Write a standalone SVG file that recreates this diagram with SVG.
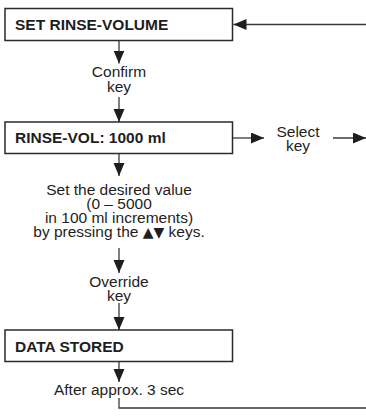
<svg xmlns="http://www.w3.org/2000/svg" width="366" height="417" viewBox="0 0 366 417">
<style>
.box{fill:#fff;stroke:#2a2a2a;stroke-width:1.5}
.bt{font-family:"Liberation Sans",Arial,sans-serif;font-weight:bold;font-size:15.5px;fill:#1e1e1e}
.t{font-family:"Liberation Sans",Arial,sans-serif;font-size:15.5px;fill:#1e1e1e;text-anchor:middle}
.tri{font-family:"DejaVu Sans",sans-serif;font-size:14px}
.c{fill:none;stroke:#3a3a3a;stroke-width:1.3}
</style>
<defs>
<marker id="ah" markerUnits="userSpaceOnUse" markerWidth="14" markerHeight="12" refX="13" refY="5.5" orient="auto">
<path d="M0,0 L13,5.5 L0,11 z" fill="#1e1e1e"/>
</marker>
</defs>
<rect width="366" height="417" fill="#fff"/>
<g id="connectors">
<path class="c" d="M119,40.5 V63.5" marker-end="url(#ah)"/>
<path class="c" d="M119,97 V122" marker-end="url(#ah)"/>
<path class="c" d="M119,153.5 V176" marker-end="url(#ah)"/>
<path class="c" d="M119,248 V273" marker-end="url(#ah)"/>
<path class="c" d="M119,303 V330" marker-end="url(#ah)"/>
<path class="c" d="M119,361.5 V382" marker-end="url(#ah)"/>
<path class="c" d="M119,398 V408 H366"/>
<path class="c" d="M366,24.5 H233.5" marker-end="url(#ah)"/>
<path class="c" d="M232.5,138 H264" marker-end="url(#ah)"/>
<path class="c" d="M333,138 H366" marker-end="url(#ah)"/>
</g>
<g id="set-rinse-volume">
<rect class="box" x="5" y="8.5" width="227.5" height="32"/>
<text class="bt" x="15" y="30">SET RINSE-VOLUME</text>
</g>
<g id="confirm-key">
<text class="t" x="119" y="77">Confirm</text>
<text class="t" x="119" y="92">key</text>
</g>
<g id="rinse-vol">
<rect class="box" x="5" y="122" width="227.5" height="31.5"/>
<text class="bt" x="15" y="142.5">RINSE-VOL: 1000 ml</text>
</g>
<g id="select-key">
<text class="t" x="298" y="136.5">Select</text>
<text class="t" x="298" y="151">key</text>
</g>
<g id="set-value">
<text class="t" x="119" y="194.5">Set the desired value</text>
<text class="t" x="119" y="208.8">(0 – 5000</text>
<text class="t" x="119" y="223.1">in 100 ml increments)</text>
<text class="t" x="119" y="237.4">by pressing the <tspan class="tri">▲▼</tspan> keys.</text>
</g>
<g id="override-key">
<text class="t" x="119" y="286.5">Override</text>
<text class="t" x="119" y="300.5">key</text>
</g>
<g id="data-stored">
<rect class="box" x="5" y="330" width="227.5" height="31.5"/>
<text class="bt" x="15" y="352">DATA STORED</text>
</g>
<g id="after-3-sec">
<text class="t" x="119" y="394.5">After approx. 3 sec</text>
</g>
</svg>
